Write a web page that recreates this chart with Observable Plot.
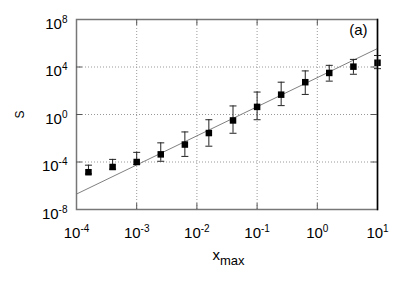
<!DOCTYPE html>
<html>
<head>
<meta charset="utf-8">
<script src="https://cdn.jsdelivr.net/npm/d3@7"></script>
<script src="https://cdn.jsdelivr.net/npm/@observablehq/plot@0.6"></script>
<style>
  html, body { margin: 0; padding: 0; background: white; }
</style>
</head>
<body>
<div id="chart"></div>
<script>
// Data
const xValues   = [1.58e-4, 3.98e-4, 1.0e-3, 2.51e-3, 6.31e-3, 1.58e-2, 3.98e-2, 0.1, 0.251, 0.631, 1.58, 3.98, 10];
const sValues   = [1.38e-5, 3.8e-5, 1.0e-4, 4.4e-4, 2.95e-3, 2.75e-2, 0.316, 4.37, 46.8, 525, 3160, 1.07e4, 2.29e4];
const sUpper    = [5.4e-5, 1.66e-4, 6.5e-4, 4.1e-3, 3.4e-2, 0.363, 5.25, 77.6, 525, 4680, 1.38e4, 4.37e4, 9.3e4];
const sLower    = [1.0e-5, 2.5e-5, 6.3e-5, 1.15e-4, 2.95e-4, 2.14e-3, 2.63e-2, 0.363, 5.6, 49, 646, 2450, 7240];
const fitX      = [1e-4, 10];
const fitS      = [2.0e-7, 3.6e5];

const xTicks    = [1e-4, 1e-3, 1e-2, 1e-1, 1, 10];
const xTickExp  = ["-4", "-3", "-2", "-1", "0", "1"];
const yTicks    = [1e-8, 1e-4, 1, 1e4, 1e8];
const yTickExp  = ["-8", "-4", "0", "4", "8"];
const xGrid     = [1e-3, 1e-2, 1e-1, 1];
const yGrid     = [1e-4, 1, 1e4];
const xLabel    = "x";
const xLabelSub = "max";
const yLabel    = "S";
const panelTag  = "(a)";

const points = xValues.map((x, i) => ({x, s: sValues[i], lo: sLower[i], hi: sUpper[i]}));
const fit = fitX.map((x, i) => ({x, s: fitS[i]}));

const W = 399, H = 284;
const mL = 76, mR = 22, mT = 19, mB = 75;
const frameW = W - mL - mR, frameH = H - mT - mB;
const tickLen = 6;

const capSymbol = {
  draw(context) {
    context.moveTo(-3.5, 0);
    context.lineTo(3.5, 0);
  }
};
const squareSymbol = {
  draw(context) {
    context.rect(-3.25, -3.25, 6.5, 6.5);
  }
};

const chart = Plot.plot({
  width: W,
  height: H,
  marginLeft: mL,
  marginRight: mR,
  marginTop: mT,
  marginBottom: mB,
  style: {fontFamily: "'Liberation Sans', Arial, sans-serif", background: "white", color: "black"},
  x: {type: "log", domain: [1e-4, 10], axis: null},
  y: {type: "log", domain: [1e-8, 1e8], axis: null},
  marks: [
    // grid
    Plot.ruleX(xGrid, {x: d => d, stroke: "#999", strokeWidth: 1, strokeDasharray: "1,2"}),
    Plot.ruleY(yGrid, {y: d => d, stroke: "#999", strokeWidth: 1, strokeDasharray: "1,2"}),
    // fit line
    Plot.line(fit, {x: "x", y: "s", stroke: "#808080", strokeWidth: 1}),
    // error bars
    Plot.ruleX(points, {x: "x", y1: "lo", y2: "hi", stroke: "#222", strokeWidth: 1}),
    Plot.dot(points, {x: "x", y: "hi", symbol: capSymbol, stroke: "#222", strokeWidth: 1, r: 3}),
    Plot.dot(points, {x: "x", y: "lo", symbol: capSymbol, stroke: "#222", strokeWidth: 1, r: 3}),
    // markers
    Plot.dot(points, {x: "x", y: "s", symbol: squareSymbol, fill: "black", stroke: "none", r: 3}),
    // frame
    Plot.frame({stroke: "#777", strokeWidth: 1.5}),
    Plot.frame({anchor: "right", stroke: "black", strokeWidth: 1.5}),
    // inward ticks
    Plot.tickX(xGrid, {x: d => d, insetTop: frameH - tickLen, stroke: "#555", strokeWidth: 1}),
    Plot.tickX(xGrid, {x: d => d, insetBottom: frameH - tickLen, stroke: "#555", strokeWidth: 1}),
    Plot.tickY(yGrid, {y: d => d, insetRight: frameW - tickLen, stroke: "#555", strokeWidth: 1}),
    Plot.tickY(yGrid, {y: d => d, insetLeft: frameW - tickLen, stroke: "#555", strokeWidth: 1}),
    // tick labels
    Plot.text(xTicks, {x: d => d, text: () => "10", frameAnchor: "bottom", dy: 28, lineAnchor: "bottom",
      textAnchor: "middle", fontSize: 15, fill: "black", ariaDescription: "xticklabels"}),
    Plot.text(yTicks, {y: d => d, text: () => "10", frameAnchor: "left", dx: -9, dy: 9, lineAnchor: "bottom",
      textAnchor: "end", fontSize: 15, fill: "black", ariaDescription: "yticklabels"}),
    // axis labels
    Plot.text([xLabel], {text: d => d, frameAnchor: "bottom", dx: 1.5, dy: 50, lineAnchor: "bottom",
      textAnchor: "middle", fontSize: 15, fill: "black", ariaDescription: "xlabel"}),
    Plot.text([yLabel], {text: d => d, frameAnchor: "left", dx: -56, rotate: -90, lineAnchor: "middle",
      textAnchor: "middle", fontSize: 12, fill: "black"}),
    Plot.text([panelTag], {text: d => d, frameAnchor: "top-right", dx: -10, dy: 15, lineAnchor: "bottom",
      textAnchor: "end", fontSize: 15, fill: "black"})
  ]
});

document.getElementById("chart").appendChild(chart);

const svg = d3.select(chart);
function addSup(label, exps) {
  svg.selectAll(`g[aria-description="${label}"] text`).each(function(d, i) {
    const t = d3.select(this);
    t.text("");
    t.append("tspan").text("10");
    t.append("tspan").attr("dy", -6).attr("font-size", 10).text(exps[i]);
  });
}
addSup("xticklabels", xTickExp);
addSup("yticklabels", yTickExp);
svg.selectAll('g[aria-description="xlabel"] text').each(function() {
  d3.select(this).append("tspan").attr("dy", 5).attr("font-size", 13).text(xLabelSub);
});
</script>
</body>
</html>
